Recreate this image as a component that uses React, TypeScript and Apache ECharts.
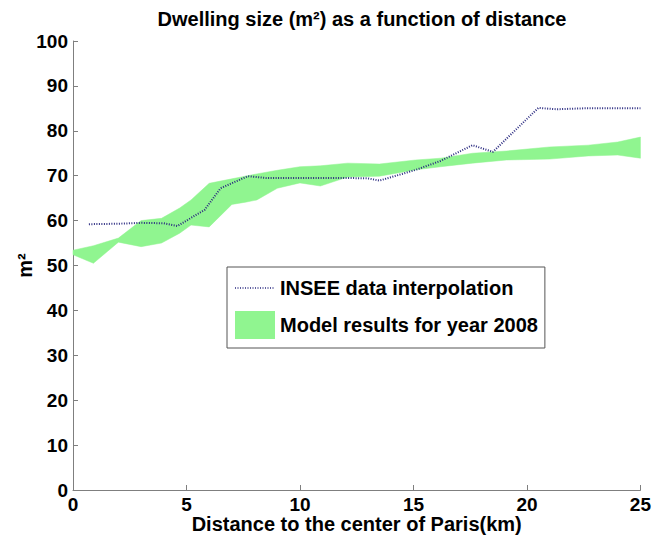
import React, { useEffect, useRef } from "react";
import * as echarts from "echarts";

const inseeX = [0.7, 2, 3, 4, 4.6, 5.8, 6.5, 7.7, 8.5, 10, 12, 13, 13.5, 15.1, 16.2, 17.6, 18.5, 20.5, 21.3, 22.5, 25];
const inseeY = [59.2, 59.3, 59.5, 59.4, 58.8, 62.4, 67.2, 69.9, 69.5, 69.5, 69.5, 69.4, 68.9, 71.3, 73.3, 76.8, 75.3, 85.1, 84.8, 85, 85];

const bandX = [0, 0.9, 2, 3, 3.9, 4.7, 5.2, 6, 7, 7.6, 8.1, 9, 10, 10.9, 12.1, 13.5, 15.1, 16.2, 17.6, 19.1, 21, 22.7, 24, 25];
const bandUpper = [53.4, 54.4, 56.1, 60.0, 60.5, 62.8, 64.6, 68.3, 69.3, 69.9, 70.4, 71.2, 72.0, 72.2, 72.8, 72.6, 73.5, 73.9, 75.0, 75.5, 76.4, 76.8, 77.5, 78.6];
const bandLower = [52.4, 50.5, 55.2, 54.2, 55.0, 57.2, 59.0, 58.6, 63.6, 64.1, 64.6, 67.2, 68.4, 67.7, 69.7, 69.9, 71.3, 72.0, 72.8, 73.5, 73.7, 74.4, 74.6, 73.9];

const xTicks = { min: 0, max: 25, interval: 5 };
const yTicks = { min: 0, max: 100, interval: 10 };

const FONT = "'Liberation Sans', Arial, sans-serif";
const GREEN = "#90f590";
const NAVY = "#2a2a80";

const dottedIcon =
  "image://data:image/svg+xml;charset=utf-8," +
  encodeURIComponent(
    '<svg xmlns="http://www.w3.org/2000/svg" width="40" height="28" viewBox="0 0 40 28"><line x1="0" y1="14" x2="40" y2="14" stroke="' +
      NAVY +
      '" stroke-width="1.6" stroke-dasharray="1 1.5"/></svg>'
  );

export default function App() {
  const ref = useRef<HTMLDivElement>(null);
  useEffect(() => {
    if (!ref.current) return;
    const chart = echarts.init(ref.current, undefined, { renderer: "svg" });
    const bandData = bandX.map((x, i) => [x, bandLower[i], bandUpper[i]]);
    const inseeData = inseeX.map((x, i) => [x, inseeY[i]]);
    const axisGray = "#7f7f7f";
    chart.setOption({
      animation: false,
      backgroundColor: "#ffffff",
      title: {
        text: "Dwelling size (m²) as a function of distance",
        left: 357,
        top: 4,
        textAlign: "center",
        textStyle: { fontFamily: FONT, fontWeight: "bold", fontSize: 20, color: "#000" },
      },
      grid: { left: 73, right: 12, top: 41, bottom: 54, containLabel: false },
      legend: {
        orient: "vertical",
        left: 227,
        top: 267,
        padding: [7, 7, 9, 8],
        itemGap: 9,
        itemWidth: 40,
        itemHeight: 28,
        borderColor: "#555",
        borderWidth: 1,
        backgroundColor: "#fff",
        textStyle: { fontFamily: FONT, fontWeight: "bold", fontSize: 20, color: "#000" },
        data: [
          { name: "INSEE data interpolation", icon: dottedIcon },
          { name: "Model results for year 2008", icon: "rect", itemStyle: { color: GREEN } },
        ],
      },
      xAxis: {
        type: "value",
        ...xTicks,
        name: "Distance to the center of Paris(km)",
        nameLocation: "middle",
        nameGap: 24,
        nameMoveOverlap: false,
        nameTextStyle: { fontFamily: FONT, fontWeight: "bold", fontSize: 20, color: "#000" },
        axisLine: { show: true, lineStyle: { color: axisGray, width: 1 } },
        axisTick: { show: true, inside: true, length: 5, lineStyle: { color: axisGray } },
        axisLabel: { fontFamily: FONT, fontWeight: "bold", fontSize: 19, color: "#000", margin: 5 },
        splitLine: { show: false },
      },
      yAxis: {
        type: "value",
        ...yTicks,
        name: "m²",
        nameLocation: "middle",
        nameGap: 38,
        nameMoveOverlap: false,
        nameRotate: 90,
        nameTextStyle: { fontFamily: FONT, fontWeight: "bold", fontSize: 20, color: "#000" },
        axisLine: { show: true, lineStyle: { color: axisGray, width: 1 } },
        axisTick: { show: true, inside: true, length: 5, lineStyle: { color: axisGray } },
        axisLabel: { fontFamily: FONT, fontWeight: "bold", fontSize: 19, color: "#000", margin: 5 },
        splitLine: { show: false },
      },
      series: [
        {
          name: "Model results for year 2008",
          type: "custom",
          data: bandData,
          itemStyle: { color: GREEN },
          encode: { x: 0, y: [1, 2] },
          renderItem: (params: any, api: any) => {
            if (params.dataIndex !== 0) return null;
            const upper = bandData.map((d) => api.coord([d[0], d[2]]));
            const lower = bandData.map((d) => api.coord([d[0], d[1]])).reverse();
            return {
              type: "polygon",
              shape: { points: upper.concat(lower) },
              style: { fill: GREEN, stroke: GREEN, lineWidth: 0.5 },
              silent: true,
            };
          },
          z: 2,
        },
        {
          name: "INSEE data interpolation",
          type: "line",
          data: inseeData,
          symbol: "none",
          color: NAVY,
          lineStyle: { color: NAVY, width: 2, type: [1, 1.5] },
          z: 5,
        },
      ],
    });
    return () => chart.dispose();
  }, []);
  return (
    <div
      ref={ref}
      style={{ width: 654, height: 544, position: "fixed", left: 0, top: 0, background: "#fff" }}
    />
  );
}
